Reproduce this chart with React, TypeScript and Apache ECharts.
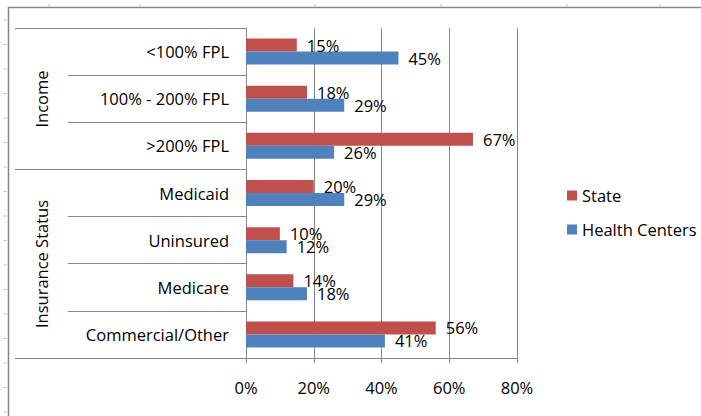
import React, { useEffect, useRef } from "react";
import * as echarts from "echarts";

const categories = [
  "<100% FPL",
  "100% - 200% FPL",
  ">200% FPL",
  "Medicaid",
  "Uninsured",
  "Medicare",
  "Commercial/Other",
];
const stateValues = [15, 18, 67, 20, 10, 14, 56];
const healthCenterValues = [45, 29, 26, 29, 12, 18, 41];
const xTicks = [0, 20, 40, 60, 80];
const groupLabels = ["Income", "Insurance Status"];

const FONT = "Open Sans";
const FS = 16.5;
const GRID = "#868686";

export default function App() {
  const ref = useRef<HTMLDivElement>(null);
  useEffect(() => {
    document.body.style.margin = "0";
    if (!ref.current) return;
    const chart = echarts.init(ref.current, undefined, { renderer: "svg" });
    const leftMarks = Array.from({ length: 17 }, (_, i) => 20 + i * 24.5);
    const topMarks = [49, 140, 315, 441, 567, 660];
    const decor: any[] = [];
    leftMarks.forEach((y) =>
      decor.push({
        type: "line",
        shape: { x1: 3, y1: y, x2: 7, y2: y },
        style: { stroke: "#c5cbd9", lineWidth: 1 },
        silent: true,
      })
    );
    topMarks.forEach((x) =>
      decor.push({
        type: "line",
        shape: { x1: x, y1: 4, x2: x, y2: 7 },
        style: { stroke: "#c5cbd9", lineWidth: 1 },
        silent: true,
      })
    );
    const labelStyle = {
      show: true,
      position: "right",
      distance: 10,
      formatter: "{c}%",
      fontSize: FS,
      color: "#000",
      fontFamily: FONT,
    };
    chart.setOption({
      animation: false,
      textStyle: { fontFamily: FONT },
      grid: { left: 246, right: 184, top: 28, bottom: 58, containLabel: false },
      legend: {
        orient: "vertical",
        left: 562,
        top: 182,
        itemWidth: 10,
        itemHeight: 10,
        itemGap: 17,
        itemTextGap: 5,
        icon: "rect",
        textStyle: { fontSize: FS, color: "#000", fontFamily: FONT },
        data: ["State", "Health Centers"],
      },
      xAxis: {
        type: "value",
        min: xTicks[0],
        max: xTicks[xTicks.length - 1],
        interval: 20,
        axisLine: { show: true, lineStyle: { color: GRID } },
        axisTick: { show: true, length: 5, lineStyle: { color: GRID } },
        splitLine: { show: true, lineStyle: { color: GRID } },
        axisLabel: {
          formatter: "{value}%",
          fontSize: FS,
          color: "#000",
          margin: 21,
          fontFamily: FONT,
        },
      },
      yAxis: [
        {
          type: "category",
          inverse: true,
          data: categories,
          axisLine: { show: true, lineStyle: { color: GRID } },
          axisTick: { show: true, length: 178, lineStyle: { color: GRID } },
          axisLabel: { fontSize: FS, color: "#000", margin: 17, fontFamily: FONT },
        },
        {
          type: "category",
          inverse: true,
          position: "left",
          data: categories,
          axisLine: { show: false },
          axisLabel: { show: false },
          axisTick: {
            show: true,
            length: 231,
            lineStyle: { color: GRID },
            interval: (i: number) => i === 0 || i === 3,
          },
        },
      ],
      series: [
        {
          name: "State",
          type: "bar",
          yAxisIndex: 0,
          data: stateValues,
          barWidth: 13,
          barGap: "0%",
          itemStyle: { color: "#C0504D" },
          label: labelStyle,
        },
        {
          name: "Health Centers",
          type: "bar",
          yAxisIndex: 0,
          data: healthCenterValues,
          barWidth: 13,
          barGap: "0%",
          itemStyle: { color: "#4F81BD" },
          label: labelStyle,
        },
      ],
      graphic: [
        {
          type: "rect",
          shape: { x: 8.5, y: 7.5, width: 720, height: 420 },
          style: { fill: "none", stroke: GRID, lineWidth: 1.5 },
          silent: true,
          z: -1,
        },
        ...decor,
        {
          type: "text",
          x: 41,
          y: 99,
          rotation: Math.PI / 2,
          style: {
            text: groupLabels[0],
            align: "center",
            verticalAlign: "middle",
            fontSize: FS,
            fontFamily: FONT,
            fill: "#000",
          },
        },
        {
          type: "text",
          x: 41,
          y: 264,
          rotation: Math.PI / 2,
          style: {
            text: groupLabels[1],
            align: "center",
            verticalAlign: "middle",
            fontSize: FS,
            fontFamily: FONT,
            fill: "#000",
          },
        },
      ],
    });
    return () => chart.dispose();
  }, []);
  return <div ref={ref} style={{ width: 701, height: 416 }} />;
}
